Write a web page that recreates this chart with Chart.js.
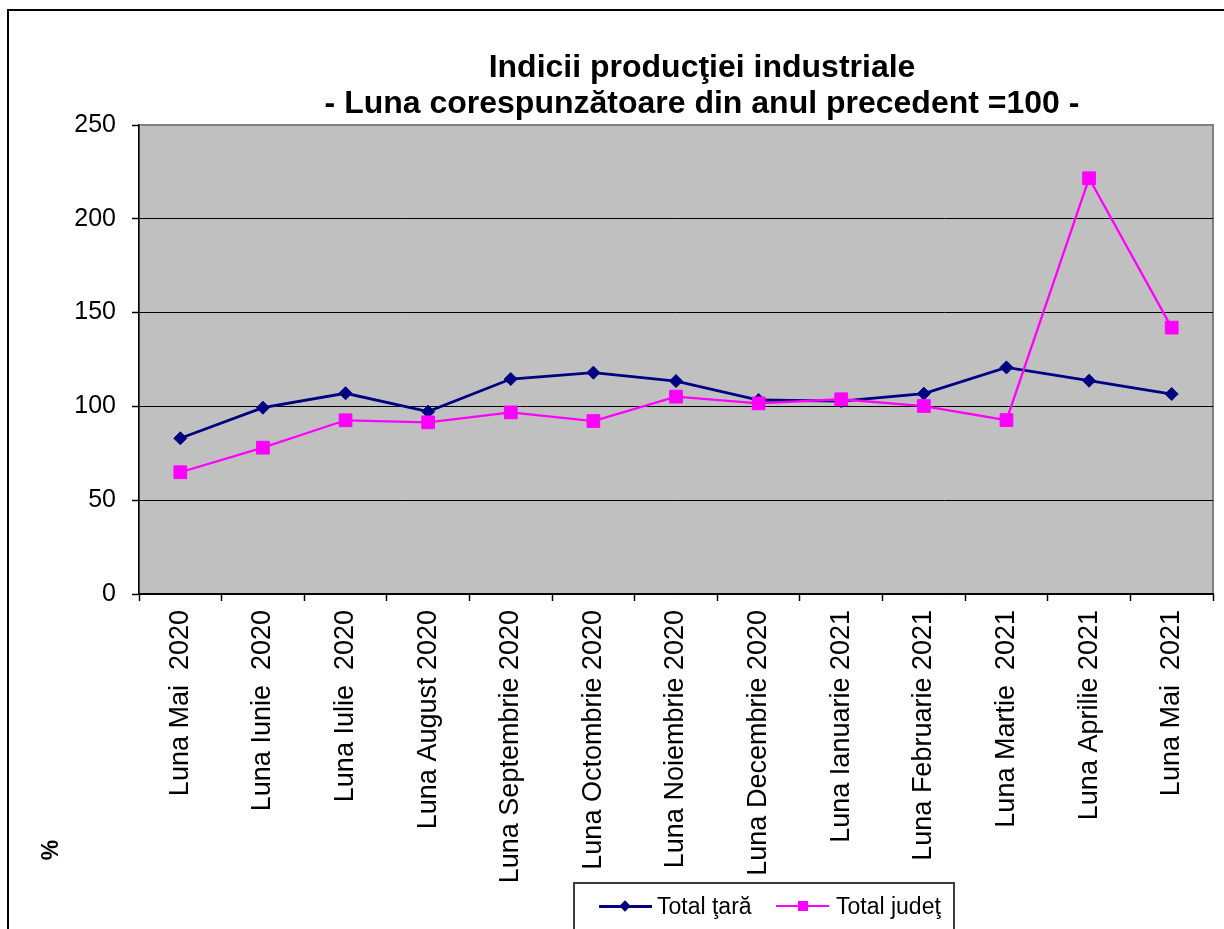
<!DOCTYPE html>
<html>
<head>
<meta charset="utf-8">
<script src="https://cdn.jsdelivr.net/npm/chart.js@4.4.1/dist/chart.umd.min.js"></script>
<style>
  html, body { margin: 0; padding: 0; background: #fff; }
  #wrap { position: relative; width: 1224px; height: 929px; overflow: hidden; font-family: "Liberation Sans", Arial, sans-serif; }
  #chart { position: absolute; left: 0; top: 0; }
  #legend { position: absolute; left: 573px; top: 882px; width: 382px; height: 60px; border: 2px solid #3c3c3c; box-sizing: border-box; }
  .ln { position: absolute; height: 3px; top: 21px; }
  .mk { position: absolute; }
  .lt { position: absolute; top: 9px; font-size: 23px; line-height: 26px; color: #000; white-space: nowrap; }
</style>
</head>
<body>
<div id="wrap">
  <canvas id="chart" width="1224" height="929"></canvas>
  <div id="legend">
    <div class="ln" style="left:24px;width:53px;background:#000080"></div>
    <div class="mk" style="left:46px;top:18px;width:8px;height:8px;background:#000080;transform:rotate(45deg)"></div>
    <div class="lt" style="left:82px">Total ţară</div>
    <div class="ln" style="left:201px;width:53px;background:#ff00ff;height:2px"></div>
    <div class="mk" style="left:223px;top:17px;width:10px;height:10px;background:#ff00ff"></div>
    <div class="lt" style="left:261px">Total judeţ</div>
  </div>
</div>
<script>
Chart.defaults.font.family = '"Liberation Sans", Arial, sans-serif';
Chart.defaults.color = '#000';

const MONTHS = ['Luna Mai  2020', 'Luna Iunie  2020', 'Luna Iulie  2020', 'Luna August 2020',
  'Luna Septembrie 2020', 'Luna Octombrie 2020', 'Luna Noiembrie 2020', 'Luna Decembrie 2020',
  'Luna Ianuarie 2021', 'Luna Februarie 2021', 'Luna Martie  2021', 'Luna Aprilie 2021', 'Luna Mai  2021'];
const TOTAL_TARA = [83.0, 99.3, 107.0, 97.2, 114.6, 118.0, 113.5, 103.4, 102.8, 106.8, 120.8, 113.7, 106.6];
const TOTAL_JUDET = [64.9, 78.0, 92.6, 91.5, 96.8, 92.2, 105.2, 101.6, 103.8, 100.2, 92.7, 221.6, 142.0];
const TITLE = ['Indicii producţiei industriale', '- Luna corespunzătoare din anul precedent =100 -'];

// grey plot area, frame, title and the "%" label
const decor = {
  id: 'decor',
  beforeDraw(chart) {
    const { ctx, chartArea: a } = chart;
    ctx.save();
    ctx.fillStyle = '#000';
    ctx.fillRect(7, 9, 1217, 2);
    ctx.fillRect(7, 9, 2, 920);
    ctx.fillStyle = '#c0c0c0';
    ctx.fillRect(a.left, a.top, a.right - a.left, a.bottom - a.top);
    ctx.strokeStyle = '#808080'; ctx.lineWidth = 2;
    ctx.strokeRect(a.left, a.top, a.right - a.left, a.bottom - a.top);
    ctx.fillStyle = '#000';
    ctx.font = 'bold 32px "Liberation Sans", Arial, sans-serif';
    ctx.textAlign = 'center'; ctx.textBaseline = 'middle';
    ctx.fillText(TITLE[0], 702, 68);
    ctx.fillText(TITLE[1], 702, 104);
    ctx.translate(52, 850); ctx.rotate(-Math.PI / 2);
    ctx.font = 'bold 23px "Liberation Sans", Arial, sans-serif';
    ctx.fillText('%', 0, 0);
    ctx.restore();
  }
};

new Chart(document.getElementById('chart'), {
  type: 'line',
  data: {
    labels: MONTHS,
    datasets: [
      { label: 'Total ţară', data: TOTAL_TARA, borderColor: '#000080', backgroundColor: '#000080',
        borderWidth: 2.8, pointStyle: 'rectRot', pointRadius: 6.5, pointBorderWidth: 1, tension: 0, order: 1 },
      { label: 'Total judeţ', data: TOTAL_JUDET, borderColor: '#ff00ff', backgroundColor: '#ff00ff',
        borderWidth: 2.3, pointStyle: 'rect', pointRadius: 9, pointBorderWidth: 1, tension: 0, order: 0 },
    ],
  },
  options: {
    responsive: false, animation: false,
    layout: { padding: { top: 125, right: 11, left: 0, bottom: 0 } },
    plugins: { legend: { display: false }, title: { display: false }, tooltip: { enabled: false } },
    scales: {
      x: {
        offset: true,
        afterFit: s => { s.height = 335; },
        grid: { offset: true, drawOnChartArea: false, tickLength: 7, tickColor: '#000', tickWidth: 1.5 },
        border: { color: '#000', width: 1.5 },
        ticks: { autoSkip: false, minRotation: 90, maxRotation: 90, padding: 9, color: '#000', font: { size: 27 } },
      },
      y: {
        min: 0, max: 250,
        afterFit: s => { s.width = 139; },
        grid: { color: c => (c.tick && c.tick.value === 250 ? 'rgba(0,0,0,0)' : '#000'), lineWidth: 1,
          tickLength: 7, tickColor: '#000', tickWidth: 1.5 },
        border: { color: '#000', width: 1.5 },
        ticks: { stepSize: 50, padding: 16, color: '#000', font: { size: 25 } },
      },
    },
  },
  plugins: [decor],
});
</script>
</body>
</html>
